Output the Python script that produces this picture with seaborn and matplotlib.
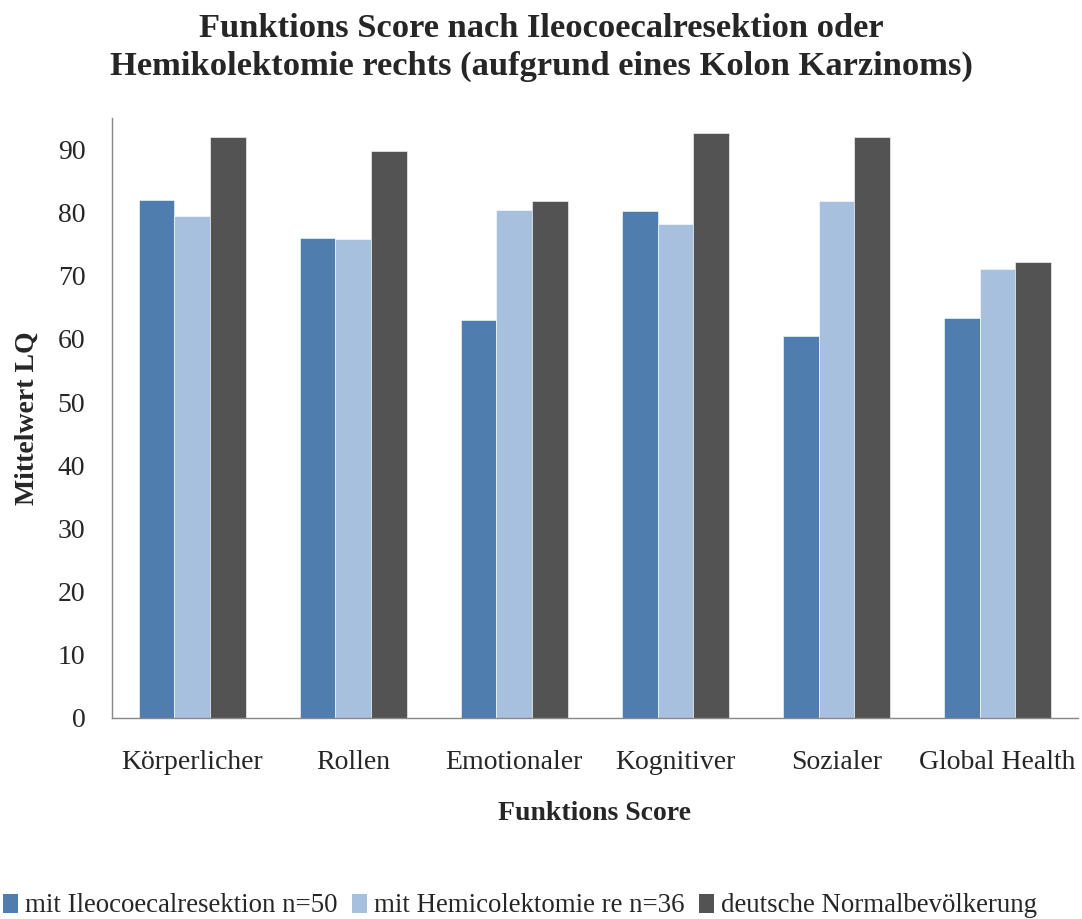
import numpy as np
import pandas as pd
import matplotlib
matplotlib.use("Agg")
import matplotlib.pyplot as plt
from matplotlib.patches import Patch
import seaborn as sns

# Data
categories = ["Körperlicher", "Rollen", "Emotionaler", "Kognitiver", "Sozialer", "Global Health"]
series_names = ["mit Ileocoecalresektion n=50", "mit Hemicolektomie re n=36", "deutsche Normalbevölkerung"]
ileo = [82.0, 76.0, 63.0, 80.3, 60.4, 63.3]
hemi = [79.4, 75.9, 80.5, 78.2, 81.9, 71.1]
normal = [92.0, 89.8, 81.8, 92.7, 92.0, 72.2]
colors = ["#4F7DAD", "#A7C0DE", "#535353"]

df = pd.DataFrame({
    "Kategorie": categories * 3,
    "Gruppe": [series_names[0]] * 6 + [series_names[1]] * 6 + [series_names[2]] * 6,
    "Wert": ileo + hemi + normal,
})

sns.set_style("white")
plt.rcParams["font.family"] = ["Liberation Serif", "DejaVu Serif"]

fig = plt.figure(figsize=(10.82, 9.19), dpi=100)
ax = fig.add_axes([0.1033, 0.219, 0.8930, 0.6526])

sns.barplot(data=df, x="Kategorie", y="Wert", hue="Gruppe", palette=colors,
            width=0.667, saturation=1, edgecolor="white", linewidth=0.4,
            errorbar=None, legend=False, ax=ax)

ax.set_xlim(-0.5, 5.5)
ax.set_ylim(0, 95)
ax.set_yticks(np.arange(0, 100, 10))
ax.tick_params(axis="y", labelsize=20, length=6, color="#888888", width=1, pad=13)
ax.tick_params(axis="x", which="major", labelsize=20, length=0, pad=23)
ax.set_xticks(np.arange(-0.5, 6.0, 1.0), minor=True)
ax.tick_params(axis="x", which="minor", length=6, color="#888888", width=1)

for side in ["top", "right"]:
    ax.spines[side].set_visible(False)
for side in ["left", "bottom"]:
    ax.spines[side].set_color("#888888")
    ax.spines[side].set_linewidth(1)

ax.set_xlabel("Funktions Score", fontsize=20, fontweight="bold", labelpad=19)
ax.set_ylabel("Mittelwert LQ", fontsize=20, fontweight="bold", labelpad=13)

fig.suptitle("Funktions Score nach Ileocoecalresektion oder\nHemikolektomie rechts (aufgrund eines Kolon Karzinoms)",
             fontsize=24.8, fontweight="bold", y=0.986, linespacing=1.3)

handles = [Patch(facecolor=c, edgecolor="none") for c in colors]
fig.legend(handles, series_names, loc="center left", bbox_to_anchor=(0.003, 1 - 906 / 919),
           ncol=3, frameon=False, fontsize=19.4, handlelength=0.55, handleheight=0.7,
           handletextpad=0.25, columnspacing=0.55, borderaxespad=0, borderpad=0)

fig.savefig("out.png", dpi=100)
